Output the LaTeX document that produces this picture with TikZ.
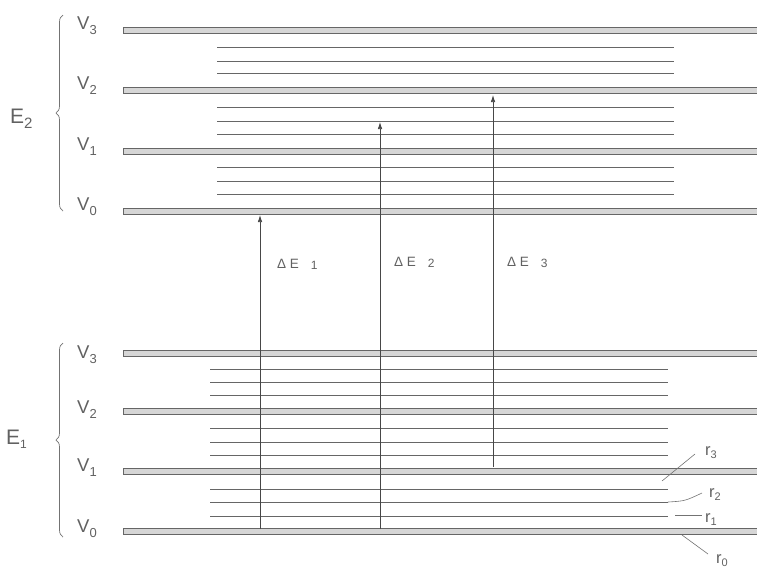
\documentclass[tikz,border=0pt]{standalone}
\usepackage{fontspec}
\setmainfont{Liberation Sans}
\usetikzlibrary{arrows.meta,decorations.pathreplacing}

% lowered small digit: size, drop, digit
\newcommand{\lvsub}[3]{\raisebox{-#2pt}{\fontsize{#1}{#1}\selectfont #3}}

\begin{document}
\begin{tikzpicture}[
    x=1pt, y=-1pt,
    level/.style={
        draw=black!60,
        fill=black!16,
        line width=0.9pt
    },
    sublevel/.style={draw=black!60, line width=0.9pt},
    lbl/.style={text=black!62, inner sep=0pt, anchor=base west},
    vlbl/.style={lbl, font=\fontsize{18.5}{18.5}\selectfont},
    rlbl/.style={lbl, font=\fontsize{16.5}{16.5}\selectfont},
    dlbl/.style={lbl, font=\fontsize{13.5}{13.5}\selectfont},
    transition/.style={draw=black!72, line width=0.7pt, -{Latex[length=7pt,width=4.5pt]}},
    leader/.style={draw=black!55, line width=0.6pt},
    group/.style={draw=black!55, line width=0.7pt, decorate, decoration={brace, amplitude=7pt}}
]
\useasboundingbox (0,0) rectangle (757,571);

% Upper state E2
\foreach \y/\v in {30/3, 90/2, 151/1, 211/0}{
    \draw[level] (123,\y-3) rectangle (762,\y+3);
    \node[vlbl] (uV\v) at (77,\y-1) {V\lvsub{13}{5}{\v}};
}
\foreach \y in {47, 61, 73, 107, 121, 134, 167, 181, 194}
    \draw[sublevel] (217,\y) -- (674,\y);

\draw[group] (63,211) -- (63,15);
\node[lbl, font=\fontsize{21}{21}\selectfont] (E2) at (10,123) {E\lvsub{15}{5}{2}};

% Lower state E1
\foreach \y/\v/\d in {353/3/5, 411/2/2, 471/1/0, 531/0/1}{
    \draw[level] (123,\y-3) rectangle (762,\y+3);
    \node[vlbl] (lV\v) at (77,\y+\d) {V\lvsub{13}{5}{\v}};
}
\foreach \y in {369, 382, 395, 428, 442, 455, 489, 502, 516}
    \draw[sublevel] (210,\y) -- (668,\y);

\draw[group] (63,537) -- (63,343);
\node[lbl, font=\fontsize{21}{21}\selectfont] (E1) at (6,444) {E\lvsub{12}{4}{1}};

% Transitions
\coordinate (s1) at (260,529);
\coordinate (t1) at (260,215);
\coordinate (s2) at (380,529);
\coordinate (t2) at (380,122);
\coordinate (s3) at (493,467);
\coordinate (t3) at (493,95);
\draw[transition] (s1) -- (t1);
\draw[transition] (s2) -- (t2);
\draw[transition] (s3) -- (t3);

\node[dlbl] (dE1) at (277,268) {Δ E\hspace{12pt}\lvsub{12}{1}{1}};
\node[dlbl] (dE2) at (394,266) {Δ E\hspace{12pt}\lvsub{12}{1}{2}};
\node[dlbl] (dE3) at (507,266) {Δ E\hspace{12pt}\lvsub{12}{1}{3}};

% Rotational levels
\node[rlbl] (r3) at (705,455) {r\lvsub{11}{3}{3}};
\node[rlbl] (r2) at (709,497) {r\lvsub{11}{3}{2}};
\node[rlbl] (r1) at (705,522) {r\lvsub{11}{3}{1}};
\node[rlbl] (r0) at (716,563) {r\lvsub{11}{3}{0}};

\coordinate (p3) at (662,481);
\coordinate (q3) at (695,454);
\coordinate (p2) at (668,502);
\coordinate (q2) at (702,493);
\coordinate (p1) at (675,515);
\coordinate (q1) at (702,515);
\coordinate (p0) at (682,535);
\coordinate (q0) at (708,554);
\draw[leader] (p3) -- (q3);
\draw[leader] (p2) .. controls (685,501) .. (q2);
\draw[leader] (p1) -- (q1);
\draw[leader] (p0) -- (q0);

\end{tikzpicture}
\end{document}
